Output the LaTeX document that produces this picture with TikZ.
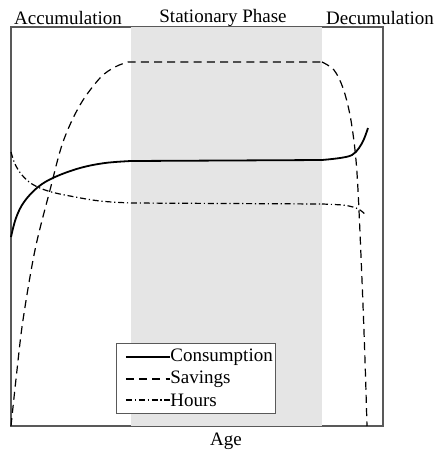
\documentclass[tikz,border=0pt]{standalone}
\usepackage{fontspec}
\setmainfont{Liberation Serif}
\tikzset{
  frame/.style={draw=black!65, line width=0.6pt},
  phase/.style={fill=black!10, draw=none},
  cons/.style={black, line width=0.9pt},
  sav/.style={black, line width=0.6pt, dash pattern=on 4pt off 2.6pt},
  hrs/.style={black, line width=0.6pt, dash pattern=on 3pt off 1.4pt on 0.6pt off 1.4pt},
  lbl/.style={font=\fontsize{9.5}{11}\selectfont, inner sep=0pt},
}
\begin{document}
\begin{tikzpicture}[x=0.5pt, y=-0.5pt]
  \useasboundingbox (0,0) rectangle (435,452);

  % axes box and stationary band
  \draw[frame] (11,27) rectangle (383,426);
  \fill[phase] (131,27) rectangle (322,426.3);

  % phase labels
  \node[lbl] (acc) at (68,18) {Accumulation};
  \node[lbl] (stat) at (223,18) {Stationary Phase};
  \node[lbl] (dec) at (380,18) {Decumulation};
  \node[lbl] (age) at (226,441) {Age};

  % savings
  \draw[sav] plot[smooth, tension=0.55] coordinates
    {(11,426) (17,370) (23,320) (35,250) (50,190) (63,142) (80,105)
     (100,78) (115,67) (128,62)}
    -- (322,62)
    plot[smooth, tension=0.55] coordinates
    {(322,62) (334,70) (343,88) (350,115) (355,150) (358,190)
     (362,280) (365,360) (367,426)};

  % consumption
  \draw[cons] plot[smooth, tension=0.6] coordinates
    {(11,237) (16,218) (24,202) (38,187) (55,177) (80,168) (105,163) (131,161)}
    -- (322,160)
    plot[smooth, tension=0.6] coordinates
    {(322,160) (340,158) (352,155) (359,148) (364,139) (368,128)};

  % hours
  \draw[hrs] plot[smooth, tension=0.6] coordinates
    {(11,152) (15,164) (22,175) (32,184) (48,191) (70,196) (100,201) (131,203)}
    -- (322,204)
    plot[smooth, tension=0.6] coordinates
    {(322,204) (342,205) (353,207) (360,210) (366,215)};

  % legend
  \draw[frame, fill=white, line width=0.5pt] (117,343) rectangle (276,413);
  \node[lbl, anchor=west] (lcons) at (170,357) {Consumption};
  \node[lbl, anchor=west] (lsav) at (170,379) {Savings};
  \node[lbl, anchor=west] (lhrs) at (170,400) {Hours};
  \draw[cons, line width=0.6pt] (126,357) -- (lcons.west);
  \draw[sav] (126,379) -- (lsav.west);
  \draw[hrs] (126,400) -- (lhrs.west);

\end{tikzpicture}
\end{document}
